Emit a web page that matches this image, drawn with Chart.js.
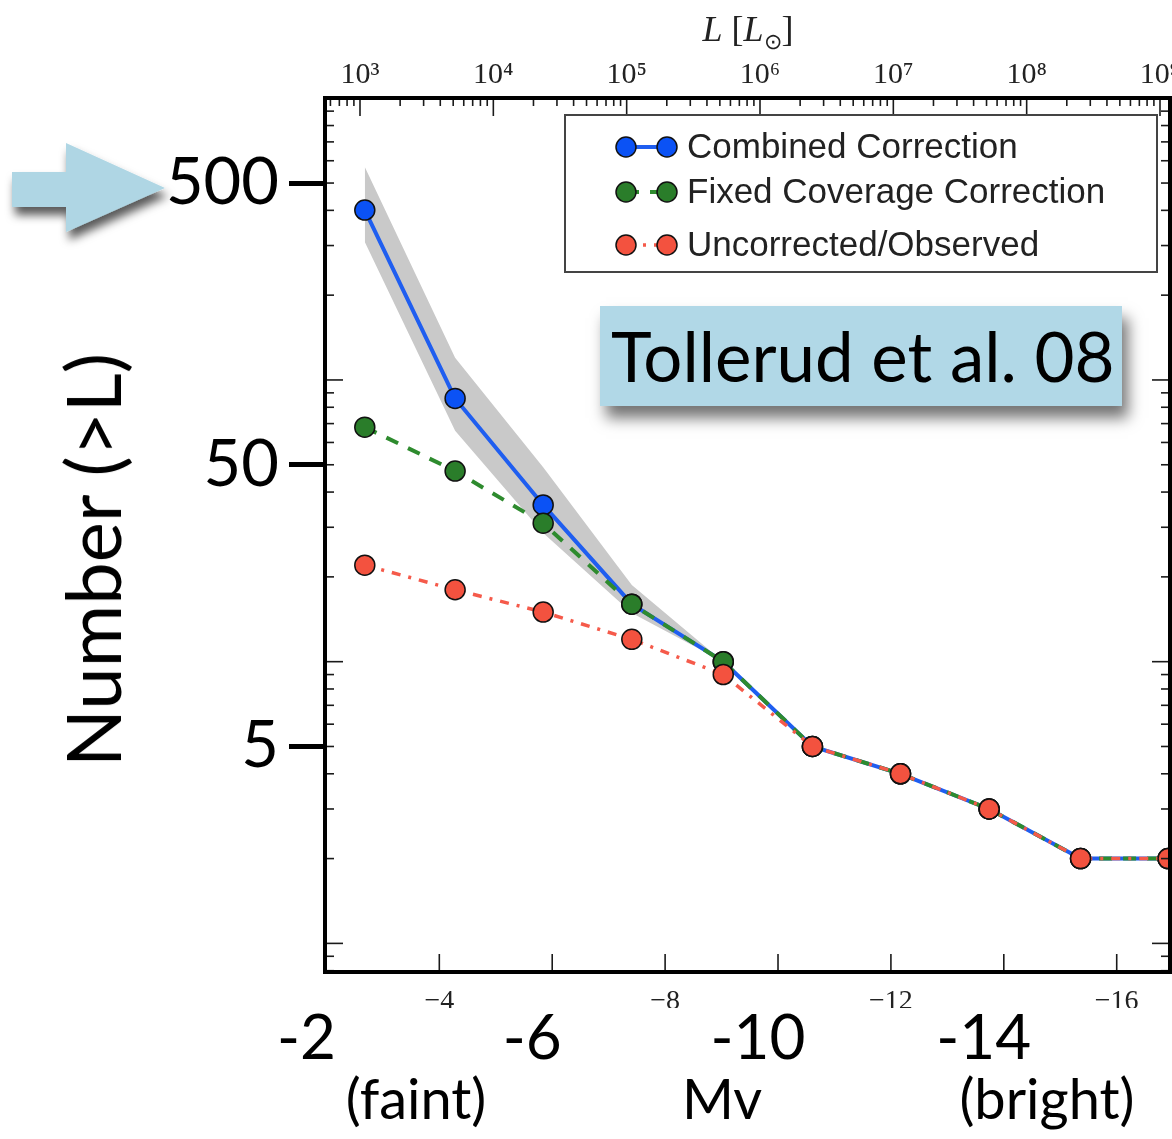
<!DOCTYPE html>
<html>
<head>
<meta charset="utf-8">
<script src="https://cdn.jsdelivr.net/npm/chart.js@4.4.0/dist/chart.umd.min.js"></script>
<style>
  body { margin: 0; background: #fff; }
  #wrap { position: relative; width: 1172px; height: 1139px; overflow: hidden; }
  .note { position: absolute; font-family: Lato, sans-serif; color: #000; white-space: nowrap; }
  .mid { transform: translateX(-50%); }
  #tag { left: 600px; top: 306px; width: 522px; height: 100px; background: #b1d8e7;
         box-shadow: 6px 12px 14px rgba(0,0,0,0.55); font-size: 69px; line-height: 100px;
         padding-left: 11px; box-sizing: border-box; }
  #ltitle { left: 748px; top: 8px; font-family: "Liberation Serif", serif; font-size: 36px; color: #222; }
  #ltitle sub { font-size: 22px; }
  #ytitle { left: 92px; top: 560px; font-size: 76px; line-height: 1;
            transform: translate(-50%, -50%) rotate(-90deg); }
  #arrow { position: absolute; left: 0; top: 130px; }
</style>
</head>
<body>
<div id="wrap">
  <canvas id="lumFn"></canvas>
  <svg id="arrow" width="200" height="130">
    <defs>
      <filter id="sh" x="-20%" y="-30%" width="150%" height="180%">
        <feDropShadow dx="3" dy="8" stdDeviation="5" flood-color="#000" flood-opacity="0.65"/>
      </filter>
    </defs>
    <polygon points="12,42 66,42 66,13 165,58 66,102 66,77 12,77" fill="#afd6e4" filter="url(#sh)"/>
  </svg>
  <div class="note" id="tag">Tollerud et al. 08</div>
  <div class="note mid" id="ltitle"><i>L</i> [<i>L</i><sub>⊙</sub>]</div>
  <div class="note" id="ytitle">Number (&gt;L)</div>
  <div class="note mid" style="left:416px; top:1064px; font-size:56px;">(faint)</div>
  <div class="note mid" style="left:722px; top:1064px; font-size:56px;">Mv</div>
  <div class="note mid" style="left:1047px; top:1064px; font-size:56px;">(bright)</div>
</div>
<script>
// absolute magnitude of each bin
var mv = [-2.68, -4.28, -5.84, -7.41, -9.03, -10.61, -12.17, -13.74, -15.36, -16.91];
// cumulative counts N(>L)
var combined  = [401, 86, 36, 16, 10, 5, 4, 3, 2, 2];
var fixedCov  = [68, 47.5, 31, 16, 10, 5, 4, 3, 2, 2];
var observed  = [22, 18, 15, 12, 9, 5, 4, 3, 2, 2];
// grey band round the combined correction
var bandHi = [570, 120, 49, 18.7, 10, 5, 4, 3, 2, 2];
var bandLo = [309, 66, 28.6, 14.9, 10, 5, 4, 3, 2, 2];

// tick labels
var yTicks = [5, 50, 500];
var mvSmallTicks = [-4, -8, -12, -16];
var mvBigTicks = [-2, -6, -10, -14];
var mvTickMarks = [-4, -6, -8, -10, -12, -14, -16];
var lumExp = [3, 4, 5, 6, 7, 8, 9];

var sup = {3:'³',4:'⁴',5:'⁵',6:'⁶',7:'⁷',8:'⁸',9:'⁹'};

function pts(ys) {
    var out = [];
    for (var i = 0; i < mv.length; i++) out.push({x: mv[i], y: ys[i]});
    return out;
}

// no automatic label overhang padding, the plot runs to the page edge
function noPad(s) {
    s.paddingLeft = 0; s.paddingRight = 0; s.paddingTop = 0; s.paddingBottom = 0;
}

// frame + inward matplotlib-style ticks
var frameTicks = {
    id: 'frameTicks',
    afterDraw: function (chart) {
        var ctx = chart.ctx, a = chart.chartArea, s = chart.scales;
        ctx.save();
        ctx.strokeStyle = '#1a1a1a';
        ctx.lineWidth = 1.6;
        function seg(x1, y1, x2, y2) { ctx.beginPath(); ctx.moveTo(x1, y1); ctx.lineTo(x2, y2); ctx.stroke(); }
        for (var e = -1; e <= 3; e++) {
            for (var k = 1; k <= 9; k++) {
                var v = k * Math.pow(10, e);
                if (v < s.y.min || v > s.y.max) continue;
                var p = s.y.getPixelForValue(v);
                var len = k === 1 ? 18 : 9;
                seg(a.left, p, a.left + len, p);
                seg(a.right, p, a.right - len, p);
            }
        }
        mvTickMarks.forEach(function (m) {
            var p = s.x.getPixelForValue(m);
            seg(p, a.bottom, p, a.bottom - 18);
        });
        for (var e2 = 2; e2 <= 9; e2++) {
            for (var k2 = 1; k2 <= 9; k2++) {
                var L = k2 * Math.pow(10, e2);
                if (L < s.xL.min || L > s.xL.max) continue;
                var q = s.xL.getPixelForValue(L);
                seg(q, a.top, q, a.top + (k2 === 1 ? 18 : 8));
            }
        }
        ctx.lineWidth = 4;
        ctx.strokeStyle = '#000';
        ctx.strokeRect(a.left, a.top, a.right - a.left, a.bottom - a.top);
        ctx.restore();
    }
};

// legend box inside the plot
var boxLegend = {
    id: 'boxLegend',
    afterDraw: function (chart) {
        var ctx = chart.ctx;
        var rows = [{ds: 2, y: 147}, {ds: 1, y: 192}, {ds: 0, y: 245}];
        ctx.save();
        ctx.fillStyle = '#fff';
        ctx.fillRect(565, 115, 592, 157);
        ctx.strokeStyle = '#444';
        ctx.lineWidth = 2;
        ctx.strokeRect(565, 115, 592, 157);
        rows.forEach(function (r) {
            var d = chart.data.datasets[r.ds];
            ctx.save();
            ctx.strokeStyle = d.borderColor;
            ctx.lineWidth = d.borderWidth;
            ctx.setLineDash(d.borderDash || []);
            ctx.beginPath(); ctx.moveTo(626, r.y); ctx.lineTo(667, r.y); ctx.stroke();
            ctx.restore();
            [626, 667].forEach(function (cx) {
                ctx.beginPath();
                ctx.arc(cx, r.y, 10, 0, Math.PI * 2);
                ctx.fillStyle = d.pointBackgroundColor;
                ctx.fill();
                ctx.lineWidth = 1.5;
                ctx.strokeStyle = '#111';
                ctx.stroke();
            });
            ctx.fillStyle = '#222';
            ctx.font = '35px "Liberation Sans", Arial, sans-serif';
            ctx.textBaseline = 'middle';
            ctx.fillText(d.label, 687, r.y + 1);
        });
        ctx.restore();
    }
};

var chartdata = {
    datasets: [
        {
            label: 'Uncorrected/Observed',
            data: pts(observed),
            borderColor: '#f55a4a',
            borderWidth: 3.5,
            borderDash: [9, 8, 3, 8],
            pointRadius: 10,
            pointBackgroundColor: '#f3523f',
            pointBorderColor: '#111',
            pointBorderWidth: 1.5,
            order: 1
        },
        {
            label: 'Fixed Coverage Correction',
            data: pts(fixedCov),
            borderColor: '#2e8b2e',
            borderWidth: 4,
            borderDash: [13, 11],
            pointRadius: 10,
            pointBackgroundColor: '#2a7d2a',
            pointBorderColor: '#111',
            pointBorderWidth: 1.5,
            order: 2
        },
        {
            label: 'Combined Correction',
            data: pts(combined),
            borderColor: '#1f5ef0',
            borderWidth: 4,
            pointRadius: 10,
            pointBackgroundColor: '#0b52f5',
            pointBorderColor: '#111',
            pointBorderWidth: 1.5,
            order: 3
        },
        {
            label: 'band low',
            data: pts(bandLo),
            borderWidth: 0,
            pointRadius: 0,
            borderColor: 'rgba(0,0,0,0)',
            fill: false,
            order: 4
        },
        {
            label: 'band high',
            data: pts(bandHi),
            borderWidth: 0,
            pointRadius: 0,
            borderColor: 'rgba(0,0,0,0)',
            backgroundColor: '#c9c9c9',
            fill: 3,
            order: 5
        }
    ]
};

var graphTarget = document.getElementById('lumFn');
var bigFont = {family: 'Lato', size: 62, lineHeight: 1};

var lumChart = new Chart(graphTarget, {
    type: 'line',
    data: chartdata,
    plugins: [frameTicks, boxLegend],
    options: {
        responsive: true,
        maintainAspectRatio: false,
        animation: false,
        layout: { autoPadding: false, padding: {left: 0, right: 2, top: 0, bottom: 0} },
        plugins: {
            legend: { display: false },
            tooltip: { enabled: false }
        },
        scales: {
            x: {
                type: 'linear', position: 'bottom', reverse: true, weight: 0,
                min: -16.944, max: -1.975,
                afterBuildTicks: function (s) { s.ticks = mvSmallTicks.map(function (v) { return {value: v}; }); },
                afterFit: function (s) { s.height = 36; noPad(s); },
                grid: { display: false, drawTicks: false },
                border: { display: false },
                ticks: {
                    autoSkip: false, maxRotation: 0, padding: 13, color: '#222',
                    font: {family: 'Liberation Serif', size: 28},
                    callback: function (v) { return '\u2212' + Math.abs(v); }
                }
            },
            x2: {
                type: 'linear', position: 'bottom', reverse: true, weight: 1,
                min: -16.944, max: -1.975,
                afterBuildTicks: function (s) { s.ticks = mvBigTicks.map(function (v) { return {value: v}; }); },
                afterFit: function (s) { s.height = 131; noPad(s); },
                grid: { display: false, drawTicks: false },
                border: { display: false },
                ticks: {
                    autoSkip: false, maxRotation: 0, padding: 0, color: '#000',
                    labelOffset: -20, font: bigFont,
                    callback: function (v) { return String(v); }
                }
            },
            xL: {
                type: 'logarithmic', position: 'top',
                min: Math.pow(10, 2.7375), max: Math.pow(10, 9.075),
                afterBuildTicks: function (s) { s.ticks = lumExp.map(function (e) { return {value: Math.pow(10, e)}; }); },
                afterFit: function (s) { s.height = 98; noPad(s); },
                grid: { display: false, drawTicks: false },
                border: { display: false },
                ticks: {
                    autoSkip: false, maxRotation: 0, padding: 5, color: '#222',
                    font: {family: 'Liberation Serif', size: 30},
                    callback: function (v) { return '10' + sup[Math.round(Math.log10(v))]; }
                }
            },
            y: {
                type: 'logarithmic', position: 'left',
                min: 0.7915, max: 1002,
                afterBuildTicks: function (s) { s.ticks = yTicks.map(function (v) { return {value: v}; }); },
                afterFit: function (s) { s.width = 325; noPad(s); },
                grid: { display: true, drawOnChartArea: false, drawTicks: true, tickLength: 36, tickWidth: 5, tickColor: '#000' },
                border: { display: false },
                ticks: {
                    autoSkip: false, padding: 10, color: '#000',
                    font: {family: 'Lato', size: 65},
                    callback: function (v) { return String(v); }
                }
            }
        }
    }
});
</script>
</body>
</html>
